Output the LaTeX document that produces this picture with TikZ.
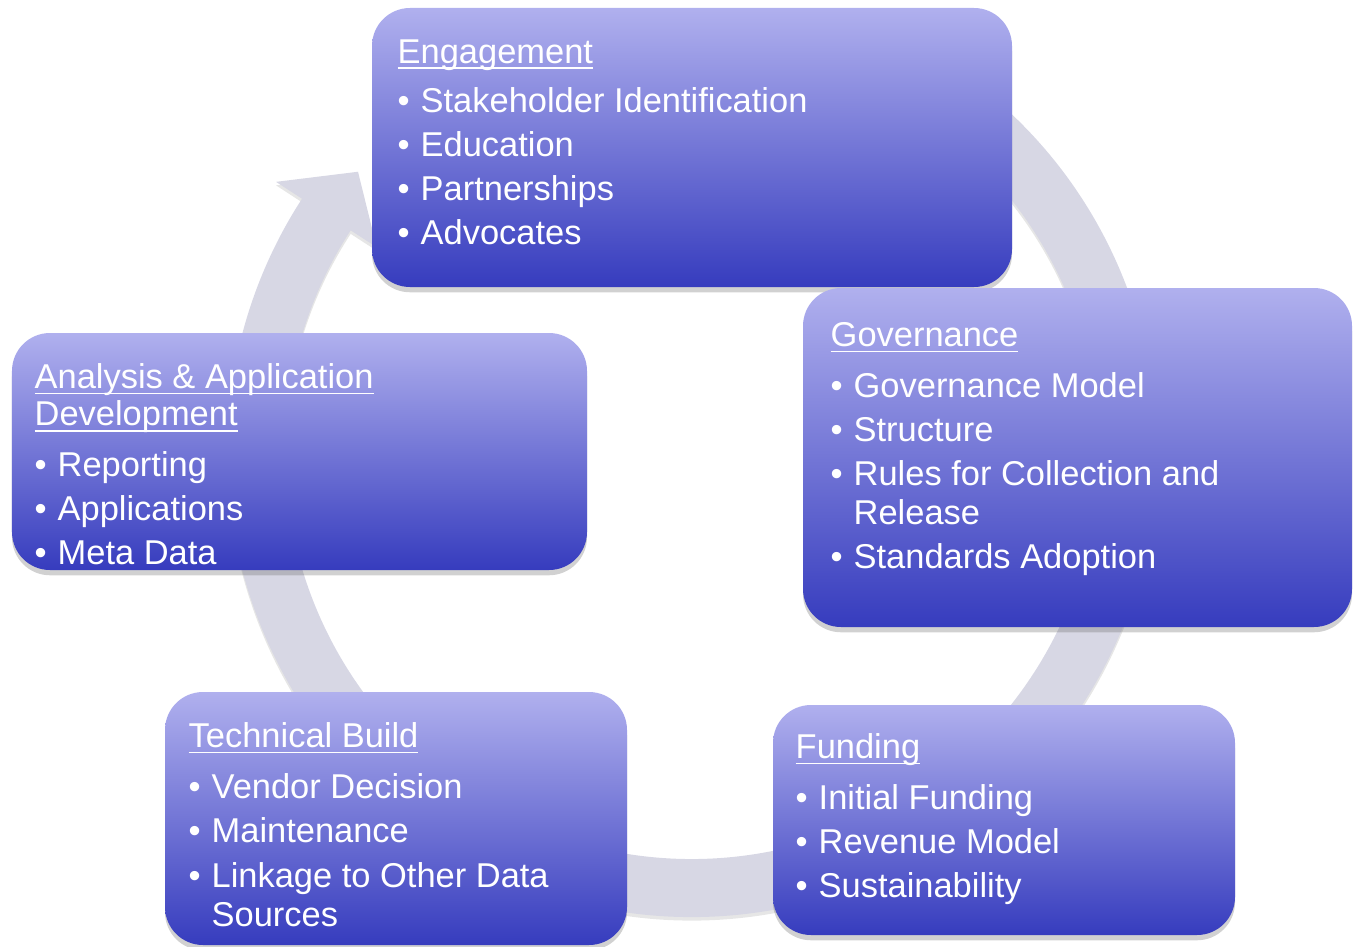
\documentclass[tikz,border=0pt]{standalone}
\usepackage{fontspec}
\setmainfont{Liberation Sans}
\usetikzlibrary{calc,shadows}

\definecolor{boxtop}{RGB}{176,176,238}
\definecolor{boxbottom}{RGB}{54,60,190}
\definecolor{ringgray}{RGB}{215,215,228}

\newlength{\hdrwd}
\newcommand{\bul}{\makebox[0.23cm][l]{\textbullet}}
\newcommand{\hdr}[1]{\settowidth{\hdrwd}{#1}\rlap{\rule[-1.6pt]{\hdrwd}{0.5pt}}#1}

\tikzset{
    stagebox/.style={rounded corners=0.38cm, top color=boxtop, bottom color=boxbottom, draw=none,
        anchor=north west, inner sep=0pt, outer sep=0pt,
        drop shadow={shadow xshift=0pt, shadow yshift=-1.5pt, opacity=0.3, fill=black!60}},
    stagetext/.style={anchor=north west, inner sep=0pt, align=left, text=white,
        font=\fontsize{9.8}{11.1}\selectfont},
}

\begin{document}
\begin{tikzpicture}
    \useasboundingbox (0,0) rectangle (13.54,-9.47);

    % The cycle arrow behind the boxes
    \coordinate (c) at (6.92,-4.52);
    \fill[ringgray, drop shadow={shadow xshift=0pt, shadow yshift=-1pt, opacity=0.2}]
        ($(c)+(60:4.65)$) arc[start angle=60, end angle=-213, radius=4.65]
        -- ($(c)+(147:4.96)$) -- ($(c)+(140:4.36)$) -- ($(c)+(147:3.76)$)
        -- ($(c)+(147:4.07)$) arc[start angle=147, end angle=420, radius=4.07] -- cycle;

    % Boxes
    \node[stagebox, minimum width=6.40cm, minimum height=2.79cm] (engbox) at (3.72,-0.08) {};
    \node[stagebox, minimum width=5.49cm, minimum height=3.39cm] (govbox) at (8.03,-2.88) {};
    \node[stagebox, minimum width=5.75cm, minimum height=2.37cm] (anabox) at (0.12,-3.33) {};
    \node[stagebox, minimum width=4.62cm, minimum height=2.53cm] (tecbox) at (1.65,-6.92) {};
    \node[stagebox, minimum width=4.62cm, minimum height=2.30cm] (funbox) at (7.73,-7.05) {};

    % Texts
    \node[stagetext] (engtext) at ($(engbox.north west)+(0.25,-0.31)$) {\hdr{Engagement}\\[2.9pt]
        \bul Stakeholder Identification\\[1.4pt]
        \bul Education\\[1.4pt]
        \bul Partnerships\\[1.4pt]
        \bul Advocates};
    \node[stagetext] (govtext) at ($(govbox.north west)+(0.27,-0.34)$) {\hdr{Governance}\\[3.4pt]
        \bul Governance Model\\[1.4pt]
        \bul Structure\\[1.4pt]
        \bul Rules for Collection and\\
        \hspace*{0.23cm}Release\\[1.4pt]
        \bul Standards Adoption};
    \node[stagetext] (anatext) at ($(anabox.north west)+(0.22,-0.30)$) {\hdr{Analysis \& Application}\\[-0.5pt]
        \hdr{Development}\\[3.2pt]
        \bul Reporting\\[1.4pt]
        \bul Applications\\[1.4pt]
        \bul Meta Data};
    \node[stagetext] (tectext) at ($(tecbox.north west)+(0.23,-0.30)$) {\hdr{Technical Build}\\[3.4pt]
        \bul Vendor Decision\\[1.4pt]
        \bul Maintenance\\[1.6pt]
        \bul Linkage to Other Data\\
        \hspace*{0.23cm}Sources};
    \node[stagetext] (funtext) at ($(funbox.north west)+(0.22,-0.28)$) {\hdr{Funding}\\[3.4pt]
        \bul Initial Funding\\[1.4pt]
        \bul Revenue Model\\[1.4pt]
        \bul Sustainability};
\end{tikzpicture}
\end{document}
